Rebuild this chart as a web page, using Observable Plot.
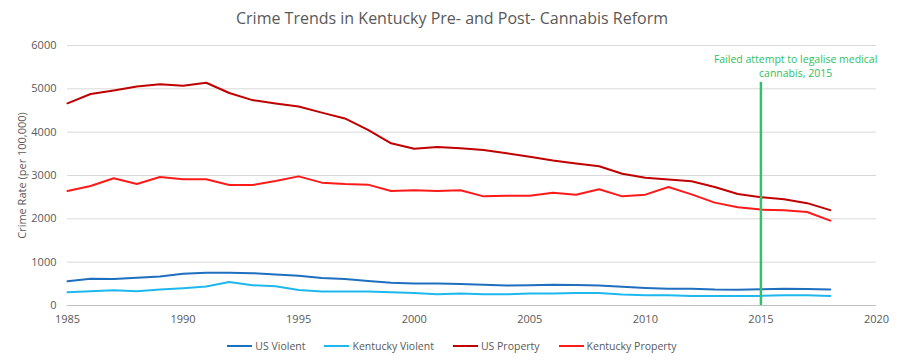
<!DOCTYPE html>
<html>
<head>
<meta charset="utf-8">
<script src="https://cdn.jsdelivr.net/npm/d3@7"></script>
<script src="https://cdn.jsdelivr.net/npm/@observablehq/plot@0.6"></script>
<style>
  html, body { margin: 0; padding: 0; background: #fff; }
  body { width: 900px; height: 364px; overflow: hidden; font-family: "Open Sans", sans-serif; }
  #title { height: 35px; line-height: 36px; text-align: center; font-size: 16px; color: #595959; padding-left: 4px; }
  #legend { display: flex; justify-content: center; gap: 19px; font-size: 10.5px; color: #595959; margin-top: 4px; padding-left: 4px; }
  #legend .item { display: flex; align-items: center; gap: 3px; }
  #legend .sw { width: 25px; height: 2px; display: inline-block; }
</style>
</head>
<body>
<div id="title">Crime Trends in Kentucky Pre- and Post- Cannabis Reform</div>
<div id="chart"></div>
<div id="legend"></div>
<script>
const years = d3.range(1985, 2019);
const usViolent = [557, 620, 613, 641, 667, 730, 758, 758, 747, 714, 685, 637, 611, 568, 523, 507, 505, 494, 476, 463, 469, 479, 472, 459, 432, 405, 387, 388, 369, 362, 374, 386, 383, 369];
const kyViolent = [307, 330, 353, 330, 369, 399, 438, 544, 468, 445, 360, 322, 322, 322, 307, 291, 260, 275, 260, 260, 275, 275, 291, 291, 252, 237, 237, 222, 222, 222, 222, 237, 237, 222];
const usProperty = [4666, 4881, 4963, 5054, 5107, 5073, 5140, 4903, 4740, 4660, 4591, 4451, 4316, 4053, 3744, 3618, 3658, 3631, 3591, 3514, 3432, 3346, 3276, 3215, 3041, 2946, 2905, 2868, 2734, 2574, 2500, 2451, 2362, 2200];
const kyProperty = [2642, 2757, 2935, 2803, 2965, 2912, 2912, 2780, 2780, 2873, 2980, 2835, 2803, 2789, 2642, 2658, 2642, 2658, 2519, 2535, 2535, 2604, 2558, 2681, 2519, 2558, 2734, 2565, 2374, 2266, 2213, 2197, 2158, 1959];
const seriesNames = ["US Violent", "Kentucky Violent", "US Property", "Kentucky Property"];
const seriesColors = ["#1f6fbf", "#1fb8ee", "#c00000", "#ff1a1a"];
const yTicks = [0, 1000, 2000, 3000, 4000, 5000, 6000];
const xTicks = [1985, 1990, 1995, 2000, 2005, 2010, 2015, 2020];
const eventYear = 2015;
const eventText = "Failed attempt to legalise medical\ncannabis, 2015";
const eventTop = 5150;

const allSeries = [usViolent, kyViolent, usProperty, kyProperty];
const rows = [];
allSeries.forEach((vals, i) => vals.forEach((v, j) => rows.push({year: years[j], value: v, series: seriesNames[i]})));

const chart = Plot.plot({
  width: 900,
  height: 300,
  marginLeft: 67,
  marginRight: 24,
  marginTop: 10,
  marginBottom: 30,
  style: {fontFamily: "Open Sans, sans-serif", fontSize: "11px", color: "#595959", background: "#fff"},
  x: {domain: [1985, 2020], ticks: xTicks, tickFormat: d => String(d), tickSize: 0, tickPadding: 10, label: null},
  y: {domain: [0, 6000], ticks: yTicks, tickFormat: d => String(d), tickSize: 0, tickPadding: 11, label: null},
  color: {domain: seriesNames, range: seriesColors},
  marks: [
    Plot.gridY(yTicks.filter(d => d > 0), {stroke: "#d9d9d9", strokeOpacity: 1, strokeWidth: 1}),
    Plot.ruleY([0], {stroke: "#bfbfbf", strokeWidth: 1}),
    Plot.axisX({ticks: xTicks, tickFormat: d => String(d), tickSize: 0, tickPadding: 10, fill: "#595959", fontSize: 11, label: null}),
    Plot.axisY({ticks: yTicks, tickFormat: d => String(d), tickSize: 0, tickPadding: 11, fill: "#595959", fontSize: 11, label: null}),
    Plot.text(["Crime Rate (per 100,000)"], {frameAnchor: "left", textAnchor: "middle", dx: -45, dy: 0, rotate: -90, fill: "#595959", fontSize: 11}),
    Plot.line(rows, {x: "year", y: "value", z: "series", stroke: "series", strokeWidth: 2, curve: "linear"}),
    Plot.ruleX([eventYear], {y1: 0, y2: eventTop, stroke: "#33c06a", strokeWidth: 2.5}),
    Plot.text([eventText], {x: eventYear + 1.5, y: 5530, fill: "#2fbf64", fontSize: 10.5, textAnchor: "middle", lineHeight: 1.35})
  ]
});
document.getElementById("chart").appendChild(chart);

const legend = document.getElementById("legend");
seriesNames.forEach((n, i) => {
  const it = document.createElement("div");
  it.className = "item";
  const sw = document.createElement("span");
  sw.className = "sw";
  sw.style.background = seriesColors[i];
  const t = document.createElement("span");
  t.textContent = n;
  it.appendChild(sw); it.appendChild(t);
  legend.appendChild(it);
});
</script>
</body>
</html>
